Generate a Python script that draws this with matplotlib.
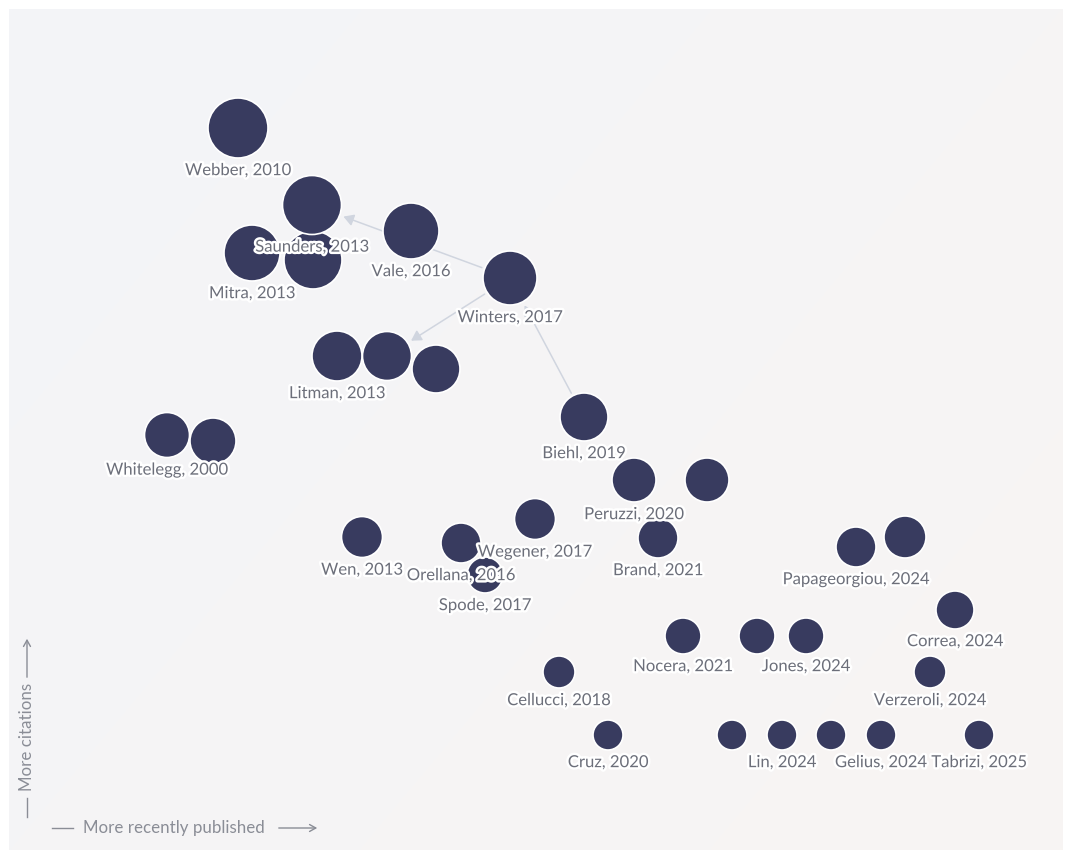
import matplotlib
matplotlib.use("Agg")
import matplotlib.pyplot as plt
import matplotlib.patheffects as pe
from matplotlib.patches import Circle, FancyArrowPatch
import numpy as np

plt.rcParams['font.family'] = ['Lato', 'DejaVu Sans']

# ---- data (layout units: x = recency, y = citations) ----
labels = ["Webber, 2010", "", "Saunders, 2013", "Mitra, 2013", "Vale, 2016", "Winters, 2017",
          "Litman, 2013", "", "", "Whitelegg, 2000", "", "Biehl, 2019",
          "Peruzzi, 2020", "", "Wegener, 2017", "Spode, 2017", "Orellana, 2016", "Wen, 2013",
          "Brand, 2021", "Papageorgiou, 2024", "", "Correa, 2024", "Nocera, 2021", "",
          "Jones, 2024", "Cellucci, 2018", "Verzeroli, 2024", "Cruz, 2020", "", "Lin, 2024",
          "", "Gelius, 2024", "Tabrizi, 2025"]
x_pos = [238, 313, 312, 252, 411, 510, 337, 387, 436, 167, 213, 584,
         634, 707, 535, 485, 461, 362, 658, 856, 905, 955, 683, 757,
         806, 559, 930, 608, 732, 782, 831, 881, 979]
y_pos = [729, 597, 652, 604, 626, 579, 501, 501, 488, 422, 416, 440,
         377, 377, 338, 282, 314, 320, 319, 310, 320, 247, 221, 221,
         221, 185, 185, 122, 122, 122, 122, 122, 122]
radius = [30, 29, 29.5, 28, 28, 27, 25, 24.5, 24, 22.5, 23, 24,
          22, 22, 20.5, 18, 20, 20.5, 20, 20, 21, 19, 18, 18,
          18, 16, 16, 15, 15, 15, 15, 15, 15]
# citation edges: (citing, cited)
edges = [(5, 2), (5, 7), (11, 5)]

W, H = 1071, 857
fig = plt.figure(figsize=(W / 100, H / 100), dpi=100)
fig.patch.set_facecolor("white")
ax = fig.add_axes([0, 0, 1, 1])
ax.set_xlim(0, W)
ax.set_ylim(0, H)
ax.axis("off")

# background panel with subtle gradient
gx = np.linspace(0, 1, 200)
gy = np.linspace(0, 1, 200)
GX, GY = np.meshgrid(gx, gy)
t = (GX * 0.6 + GY * 0.4)[..., None]
c0 = np.array([0xf3, 0xf4, 0xf8]) / 255
c1 = np.array([0xf8, 0xf5, 0xf3]) / 255
img = c0 * (1 - t) + c1 * t
ax.imshow(img, extent=(9, 1063, 7, 848), origin="upper", aspect="auto", zorder=0,
          interpolation="bilinear")

circle_color = "#383b5f"
edge_color = "#d0d5df"

# edges
for a, b in edges:
    xa, ya, ra = x_pos[a], y_pos[a], radius[a]
    xb, yb, rb = x_pos[b], y_pos[b], radius[b]
    arr = FancyArrowPatch((xa, ya), (xb, yb), arrowstyle="-|>,head_length=6,head_width=3.5",
                          color=edge_color, lw=1.1,
                          shrinkA=(ra + 3) * 0.72, shrinkB=(rb + 4) * 0.72, zorder=1)
    ax.add_patch(arr)

# circles
for i in range(len(x_pos)):
    c = Circle((x_pos[i], y_pos[i]), radius[i], facecolor=circle_color,
               edgecolor="white", lw=1.2, zorder=2 + i * 0.01)
    ax.add_patch(c)

# labels
halo = [pe.withStroke(linewidth=3.5, foreground="white")]
for i, lab in enumerate(labels):
    if not lab:
        continue
    ax.annotate(lab, (x_pos[i], y_pos[i] - radius[i]), xytext=(0, -3.0),
                textcoords="offset points", ha="center", va="top",
                fontsize=12, color="#6c6f7a", zorder=5, path_effects=halo)

# axis hints
hint_color = "#8a8d96"
ax.text(174, 29, "More recently published", ha="center", va="center",
        fontsize=12.2, color=hint_color)
ax.plot([52, 73], [29, 29], color=hint_color, lw=1)
ax.annotate("", xy=(320, 29), xytext=(276, 29),
            arrowprops=dict(arrowstyle="->,head_length=0.45,head_width=0.25",
                            color=hint_color, lw=1))
ax.text(27, 120, "More citations", ha="center", va="center", rotation=90,
        fontsize=12.2, color=hint_color)
ax.plot([27, 27], [40, 59], color=hint_color, lw=1)
ax.annotate("", xy=(27, 221), xytext=(27, 177),
            arrowprops=dict(arrowstyle="->,head_length=0.45,head_width=0.25",
                            color=hint_color, lw=1))

fig.savefig("out.png", dpi=100, facecolor="white")
